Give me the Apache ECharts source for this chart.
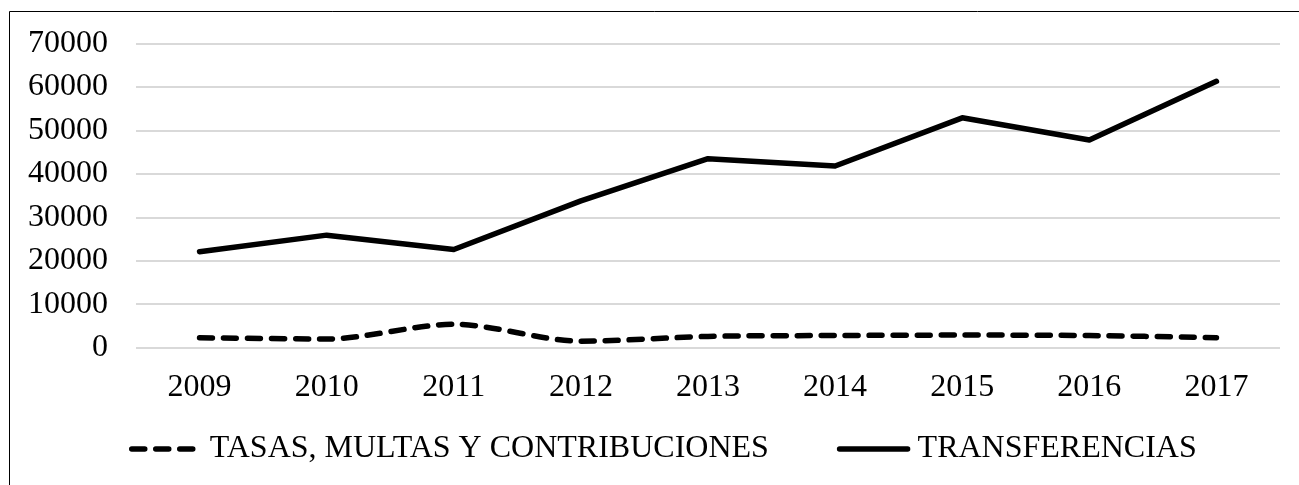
<!DOCTYPE html>
<html>
<head>
<meta charset="utf-8">
<script src="https://cdn.jsdelivr.net/npm/echarts@6/dist/echarts.min.js"></script>
<style>
  html, body { margin: 0; padding: 0; background: #fff; }
  #chart { width: 1299px; height: 485px; }
</style>
</head>
<body>
<div id="chart"></div>
<script>
// años
var years = ['2009', '2010', '2011', '2012', '2013', '2014', '2015', '2016', '2017'];
// valores
var tasas = [2300, 2000, 5400, 1500, 2600, 2800, 2900, 2800, 2300];
var transferencias = [22100, 25900, 22600, 33800, 43500, 41800, 52900, 47800, 61300];
var seriesNames = ['TASAS, MULTAS Y CONTRIBUCIONES', 'TRANSFERENCIAS'];

var font = "'Liberation Serif', 'Times New Roman', 'DejaVu Serif', serif";
var chart = echarts.init(document.getElementById('chart'));
chart.setOption({
    animation: false,
    textStyle: { fontFamily: font, color: '#000' },
    graphic: [{
        type: 'rect',
        shape: { x: 9.5, y: 11.5, width: 1400, height: 600 },
        style: { fill: 'none', stroke: '#000', lineWidth: 1 },
        silent: true
    }],
    grid: { left: 136, right: 19, top: 43.5, bottom: 137.3 },
    legend: {
        top: 428,
        left: 124,
        itemWidth: 68,
        itemHeight: 10,
        itemGap: 68,
        itemStyle: { opacity: 0 },
        lineStyle: { width: 5.5 },
        textStyle: { fontFamily: font, fontSize: 32, color: '#000', padding: [0, 0, 0, 5] },
        data: seriesNames
    },
    xAxis: {
        type: 'category',
        data: years,
        boundaryGap: true,
        axisLine: { show: false },
        axisTick: { show: false },
        axisLabel: { fontFamily: font, fontSize: 32, color: '#000', margin: 24 }
    },
    yAxis: {
        type: 'value',
        min: 0,
        max: 70000,
        interval: 10000,
        axisLine: { show: false },
        axisTick: { show: false },
        splitLine: { lineStyle: { color: '#d9d9d9', width: 2 } },
        axisLabel: {
            fontFamily: font, fontSize: 32, color: '#000', margin: 28,
            formatter: function (v) { return String(v); }
        }
    },
    series: [
        {
            name: seriesNames[0],
            type: 'line',
            data: tasas,
            smooth: 0.3,
            symbol: 'none',
            lineStyle: { color: '#000', width: 5.5, type: [13, 11], cap: 'round' },
            itemStyle: { color: '#000' }
        },
        {
            name: seriesNames[1],
            type: 'line',
            data: transferencias,
            symbol: 'none',
            lineStyle: { color: '#000', width: 5.5, cap: 'round', join: 'round' },
            itemStyle: { color: '#000' }
        }
    ]
});
</script>
</body>
</html>
